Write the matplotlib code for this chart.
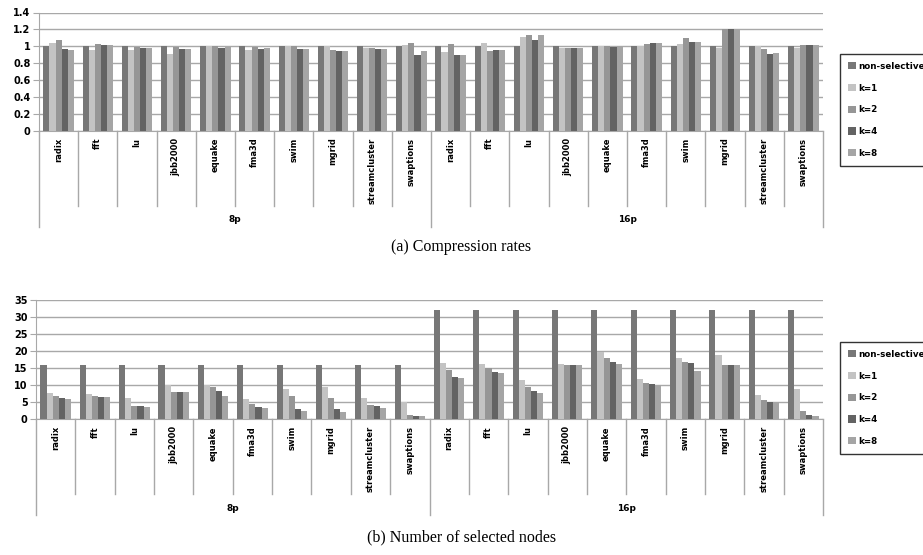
import numpy as np
import matplotlib
matplotlib.use("Agg")
import matplotlib.pyplot as plt

# benchmarks (same list for 8p and 16p)
benchmarks = ["radix", "fft", "lu", "jbb2000", "equake", "fma3d", "swim",
              "mgrid", "streamcluster", "swaptions"]
groups = ["8p", "16p"]
series = ["non-selective", "k=1", "k=2", "k=4", "k=8"]
colors = ["#777777", "#c3c3c3", "#969696", "#636363", "#a5a5a5"]

# (a) compression rates, 8p then 16p
comp_ns = [1.0] * 20
comp_k1 = [1.044, 0.95, 0.95, 0.91, 1.0, 0.95, 1.0, 1.0, 0.98, 1.02,
           0.928, 1.04, 1.108, 0.98, 1.0, 1.0, 1.028, 0.98, 1.0, 0.98]
comp_k2 = [1.072, 1.024, 0.99, 0.99, 1.0, 0.99, 1.0, 0.95, 0.98, 1.044,
           1.028, 0.948, 1.132, 0.98, 1.0, 1.032, 1.096, 1.2, 0.964, 1.016]
comp_k4 = [0.972, 1.012, 0.976, 0.964, 0.98, 0.97, 0.97, 0.94, 0.97, 0.90,
           0.90, 0.96, 1.072, 0.984, 0.99, 1.044, 1.056, 1.2, 0.912, 1.016]
comp_k8 = [0.952, 1.012, 0.984, 0.964, 0.99, 0.98, 0.97, 0.945, 0.968, 0.944,
           0.90, 0.96, 1.132, 0.98, 1.0, 1.04, 1.056, 1.2, 0.916, 1.02]

# (b) number of selected nodes
nodes_ns = [16] * 10 + [32] * 10
nodes_k1 = [7.8, 7.5, 6.1, 10.0, 10.0, 5.9, 9.0, 9.4, 6.2, 5.0,
            16.6, 16.2, 11.5, 16.2, 19.8, 11.8, 18.0, 18.8, 7.0, 8.9]
nodes_k2 = [6.7, 6.8, 4.0, 8.0, 9.4, 4.5, 6.7, 6.1, 4.2, 1.2,
            14.3, 14.9, 9.5, 15.8, 17.9, 10.7, 16.9, 15.9, 5.6, 2.3]
nodes_k4 = [6.2, 6.5, 3.9, 8.0, 8.2, 3.7, 3.0, 3.0, 3.9, 1.1,
            12.4, 13.7, 8.3, 15.8, 16.8, 10.3, 16.6, 15.9, 5.1, 1.4]
nodes_k8 = [6.0, 6.4, 3.7, 8.0, 6.9, 3.2, 2.5, 2.2, 3.3, 1.1,
            12.0, 13.6, 7.7, 15.8, 16.2, 10.1, 14.2, 15.9, 5.1, 1.1]

W, H = 923, 555
fig = plt.figure(figsize=(W / 100, H / 100), dpi=100)

gridc = "#a8a8a8"
lblfont = dict(fontsize=6.5, fontweight="bold", family="DejaVu Sans")


def draw_panel(rect_px, data, ymax, ystep, legend_top, caption, cap_y):
    x0, y0, x1, y1 = rect_px  # left, top, right, bottom in pixels
    ax = fig.add_axes([x0 / W, 1 - y1 / H, (x1 - x0) / W, (y1 - y0) / H])
    h_px = y1 - y0
    labels = benchmarks * len(groups)
    x = np.arange(len(labels))
    bw = 0.155
    for i, (vals, c) in enumerate(zip(data, colors)):
        ax.bar(x + (i - 2) * bw, vals, bw, color=c, label=series[i], zorder=3)
    ax.set_xlim(-0.5, len(labels) - 0.5)
    ax.set_ylim(0, ymax)
    ax.set_yticks(np.arange(0, ymax + ystep / 2, ystep))
    ax.yaxis.set_major_formatter(matplotlib.ticker.FuncFormatter(lambda v, p: f"{v:g}"))
    ax.grid(axis="y", color=gridc, linewidth=1, zorder=0)
    for s in ["top", "right"]:
        ax.spines[s].set_visible(False)
    for s in ["left", "bottom"]:
        ax.spines[s].set_color(gridc)
    ax.tick_params(axis="y", length=4, color=gridc, pad=2)
    ax.tick_params(axis="x", length=0, pad=5)
    ax.set_xticks(x)
    ax.set_xticklabels(labels, rotation=90)
    for t in ax.get_xticklabels():
        t.set_fontsize(6)
        t.set_fontweight("bold")
    for t in ax.get_yticklabels():
        t.set_fontsize(7)
        t.set_fontweight("bold")

    # category separators below the axis
    trans = ax.get_xaxis_transform()
    for b in np.arange(len(labels) + 1) - 0.5:
        is_group = (b + 0.5) % len(benchmarks) == 0
        depth = 96 if is_group else 75
        ax.plot([b, b], [0, -depth / h_px], transform=trans, color=gridc,
                linewidth=1, clip_on=False)
    for gi, g in enumerate(groups):
        xc = gi * len(benchmarks) + (len(benchmarks) - 1) / 2
        ax.text(xc, -89 / h_px, g, transform=trans, ha="center", va="center",
                **lblfont)

    leg = ax.legend(loc="upper left", bbox_to_anchor=(840 / W, 1 - legend_top / H),
                    bbox_transform=fig.transFigure, prop=dict(size=6.3, weight="bold"),
                    handlelength=0.9, handleheight=0.9, handletextpad=0.25,
                    labelspacing=1.45, borderpad=0.9, borderaxespad=0,
                    fancybox=False, frameon=True)
    leg.get_frame().set_edgecolor("black")
    leg.get_frame().set_linewidth(1)
    leg._legend_box.sep = 0

    fig.text(0.5, 1 - cap_y / H, caption, ha="center", va="center",
             fontsize=11.5, family="Liberation Serif")
    return ax


draw_panel((39, 12.5, 823, 130.6),
           [comp_ns, comp_k1, comp_k2, comp_k4, comp_k8],
           1.4, 0.2, 54, "(a) Compression rates", 247)
draw_panel((36, 299.6, 823, 419.3),
           [nodes_ns, nodes_k1, nodes_k2, nodes_k4, nodes_k8],
           35, 5, 342, "(b) Number of selected nodes", 537)

fig.savefig("out.png", dpi=100)
